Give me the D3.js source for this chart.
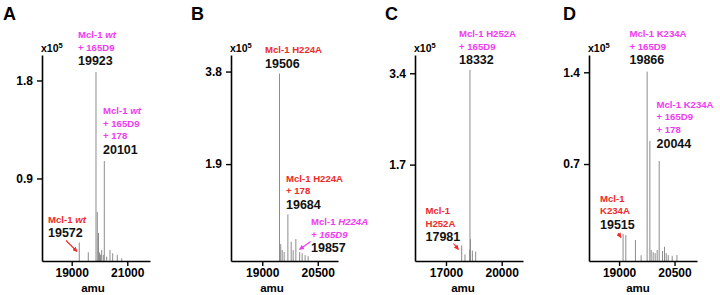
<!DOCTYPE html>
<html>
<head>
<meta charset="utf-8">
<script src="https://cdn.jsdelivr.net/npm/d3@7"></script>
<style>
  body { margin: 0; background: #fff; }
  svg { display: block; font-family: "Liberation Sans", Arial, sans-serif; }
  .tick text { font-size: 12px; font-weight: bold; fill: #000; }
  .lab { font-size: 9.6px; font-weight: bold; }
  .num { font-size: 12.5px; font-weight: bold; fill: #111; }
</style>
</head>
<body>
<svg id="chart"></svg>
<script>
// ---- data (mass in amu, intensity in x10^5) ----
const panelLetters = ['A', 'B', 'C', 'D'];

const amuA = [19273, 19597, 19874, 19921, 19964, 20000, 20036, 20079, 20137, 20173, 20259, 20378, 20475, 20640, 20799];
const intA = [0.312, 0.222, 1.878, 0.592, 0.40, 0.22, 0.20, 0.243, 0.198, 1.061, 0.182, 0.243, 0.213, 0.198, 0.167];

const amuB = [19466, 19499, 19539, 19593, 19693, 19782, 19836, 19908, 20011, 20078, 20159, 20240];
const intB = [3.76, 0.257, 0.134, 0.093, 0.867, 0.305, 0.134, 0.36, 0.093, 0.07, 0.03, 0.01];

const amuC = [17845, 18023, 18270, 18292, 18319, 18420, 18599];
const intC = [0.197, 0.03, 0.12, 3.46, 0.31, 0.10, 0.08];

const amuD = [19108, 19182, 19442, 19597, 19759, 19833, 19868, 19922, 19976, 20031, 20085, 20174, 20229, 20275, 20329, 20437, 20565];
const intD = [0.166, 0.158, 0.12, 0.004, 1.405, 0.876, 0.044, 0.028, 0.02, 0.044, 0.723, 0.036, 0.069, 0.02, 0.005, 0.0, 0.005];

const xTicksA = [19000, 21000], yTicksA = [0.9, 1.8];
const xTicksB = [19000, 20500], yTicksB = [1.9, 3.8];
const xTicksC = [17000, 20000], yTicksC = [1.7, 3.4];
const xTicksD = [19000, 20500], yTicksD = [0.7, 1.4];

const magenta = '#f03cf0';
const red = '#ee2a2a';

// ---- layout ----
const width = 720, height = 295;
const plotTop = 55;

const panels = [
    { letter: panelLetters[0], letterX: 3, left: 42, right: 150, base: 261, xDomain: [17932, 21817], yDomain: [0.142, 2.034],
      amu: amuA, int: intA, xTicks: xTicksA, yTicks: yTicksA, amuX: 93 },
    { letter: panelLetters[1], letterX: 191, left: 231, right: 338, base: 261, xDomain: [18156, 21047], yDomain: [-0.09, 4.14],
      amu: amuB, int: intB, xTicks: xTicksB, yTicks: yTicksB, amuX: 272 },
    { letter: panelLetters[2], letterX: 385, left: 415, right: 523, base: 261, xDomain: [15331, 21147], yDomain: [-0.094, 3.74],
      amu: amuC, int: intC, xTicks: xTicksC, yTicks: yTicksC, amuX: 463 },
    { letter: panelLetters[3], letterX: 563, left: 589, right: 697, base: 261, xDomain: [18186, 21108], yDomain: [-0.04, 1.532],
      amu: amuD, int: intD, xTicks: xTicksD, yTicks: yTicksD, amuX: 638 }
];

// annotation blocks: coloured lines (parts may be italic), then the black mass number
const notes = [
    { x: 78, y: 38, color: magenta, lines: [[['Mcl-1 ', 0], ['wt', 1]], [['+ 165D9', 0]]], num: '19923' },
    { x: 103, y: 114, color: magenta, lines: [[['Mcl-1 ', 0], ['wt', 1]], [['+ 165D9', 0]], [['+ 178', 0]]], num: '20101' },
    { x: 48, y: 222.5, color: red, lines: [[['Mcl-1 ', 0], ['wt', 1]]], num: '19572' },

    { x: 265, y: 53, color: red, lines: [[['Mcl-1 H224A', 0]]], num: '19506' },
    { x: 286, y: 181.5, color: red, lines: [[['Mcl-1 H224A', 0]], [['+ 178', 0]]], num: '19684' },
    { x: 311, y: 225, color: magenta, lines: [[['Mcl-1 ', 0], ['H224A', 1]], [['+ 165D9', 1]]], num: '19857' },

    { x: 459, y: 37, color: magenta, lines: [[['Mcl-1 H252A', 0]], [['+ 165D9', 0]]], num: '18332' },
    { x: 425.5, y: 214, color: red, lines: [[['Mcl-1', 0]], [['H252A', 0]]], num: '17981' },

    { x: 629.5, y: 37, color: magenta, lines: [[['Mcl-1 K234A', 0]], [['+ 165D9', 0]]], num: '19866' },
    { x: 656.5, y: 107.5, color: magenta, lines: [[['Mcl-1 K234A', 0]], [['+ 165D9', 0]], [['+ 178', 0]]], num: '20044' },
    { x: 600, y: 201.5, color: red, lines: [[['Mcl-1', 0]], [['K234A', 0]]], num: '19515' }
];

const arrows = [
    { x1: 66, y1: 240.5, x2: 77, y2: 251.5, color: red },
    { x1: 310.5, y1: 241.5, x2: 299.5, y2: 249.5, color: magenta },
    { x1: 453.5, y1: 243.5, x2: 458.5, y2: 249.5, color: red },
    { x1: 618, y1: 233, x2: 621, y2: 237.5, color: red }
];

const svg = d3.select('#chart')
    .attr('width', width)
    .attr('height', height);

// arrow heads
const defs = svg.append('defs');
[['red', red], ['mag', magenta]].forEach(([id, c]) => {
    defs.append('marker')
        .attr('id', 'head-' + id)
        .attr('viewBox', '0 0 10 10')
        .attr('refX', 9).attr('refY', 5)
        .attr('markerWidth', 4.5).attr('markerHeight', 4.5)
        .attr('orient', 'auto')
        .append('path')
        .attr('d', 'M0,0L10,5L0,10Z')
        .attr('fill', c);
});

panels.forEach(p => {
    const x = d3.scaleLinear().domain(p.xDomain).range([p.left, p.right]);
    const y = d3.scaleLinear().domain(p.yDomain).range([p.base, plotTop]);

    const g = svg.append('g');

    // panel letter
    g.append('text')
        .attr('x', p.letterX).attr('y', 20)
        .attr('font-size', 18).attr('font-weight', 'bold')
        .text(p.letter);

    // spectrum sticks
    const peaks = p.amu.map((a, i) => ({ amu: a, v: p.int[i] }));
    g.selectAll('.peak')
        .data(peaks)
        .join('line')
        .attr('class', 'peak')
        .attr('x1', d => x(d.amu)).attr('x2', d => x(d.amu))
        .attr('y1', y(p.yDomain[0]))
        .attr('y2', d => y(d.v))
        .attr('stroke', '#8c8c8c')
        .attr('stroke-width', 1);

    // axes
    const yAxis = g.append('g')
        .attr('transform', `translate(${p.left},0)`)
        .call(d3.axisLeft(y).tickValues(p.yTicks).tickSize(5).tickSizeOuter(0).tickPadding(4)
            .tickFormat(d3.format('.1f')));
    const xAxis = g.append('g')
        .attr('transform', `translate(0,${p.base})`)
        .call(d3.axisBottom(x).tickValues(p.xTicks).tickSize(5).tickSizeOuter(0).tickPadding(2.5)
            .tickFormat(d3.format('d')));
    [yAxis, xAxis].forEach(a => {
        a.select('.domain').attr('stroke-width', 1.6);
        a.selectAll('.tick line').attr('stroke-width', 1.4);
    });

    // x10^5 label
    const ex = g.append('text')
        .attr('x', p.left - 1).attr('y', 51.5)
        .attr('font-size', 10.5).attr('font-weight', 'bold');
    ex.append('tspan').text('x10');
    ex.append('tspan').attr('dy', -4).attr('font-size', 7.5).text('5');

    // amu label
    g.append('text')
        .attr('x', p.amuX).attr('y', 292)
        .attr('text-anchor', 'middle')
        .attr('font-size', 11.5).attr('font-weight', 'bold')
        .text('amu');
});

// annotations
notes.forEach(n => {
    n.lines.forEach((parts, li) => {
        const t = svg.append('text')
            .attr('class', 'lab')
            .attr('x', n.x)
            .attr('y', n.y + li * 12.6)
            .attr('fill', n.color);
        parts.forEach(([s, it]) => {
            t.append('tspan').attr('font-style', it ? 'italic' : 'normal').text(s);
        });
    });
    svg.append('text')
        .attr('class', 'num')
        .attr('x', n.x)
        .attr('y', n.y + (n.lines.length - 1) * 12.6 + 14.8)
        .text(n.num);
});

arrows.forEach(a => {
    svg.append('line')
        .attr('x1', a.x1).attr('y1', a.y1)
        .attr('x2', a.x2).attr('y2', a.y2)
        .attr('stroke', a.color)
        .attr('stroke-width', 1.1)
        .attr('marker-end', `url(#head-${a.color === red ? 'red' : 'mag'})`);
});
</script>
</body>
</html>
